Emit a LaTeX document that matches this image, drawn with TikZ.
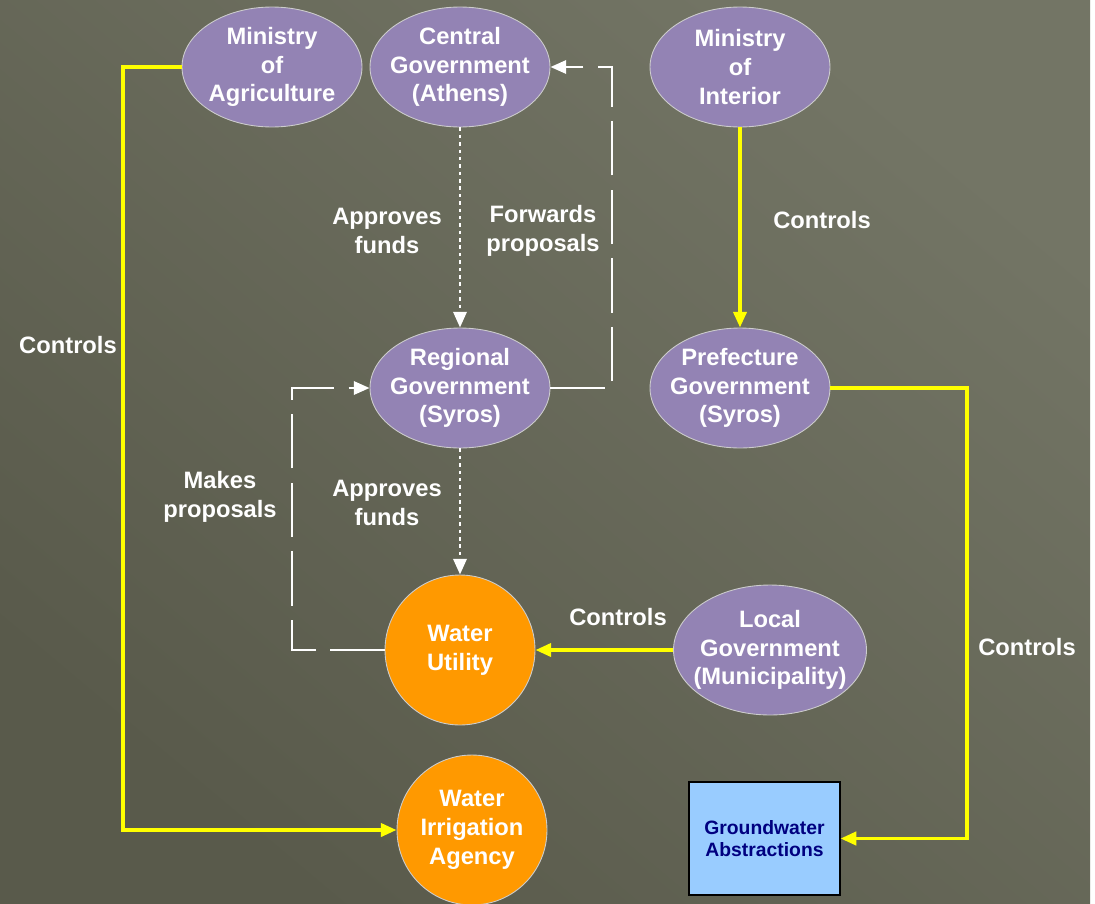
\documentclass[tikz,border=0pt]{standalone}
\usepackage{fontspec}
\setmainfont{Liberation Sans}
\usepackage{xcolor}
\usepackage{tikz}
\usetikzlibrary{shapes, arrows.meta, positioning, calc}

\definecolor{bglight}{HTML}{737565}
\definecolor{bgdark}{HTML}{595A4B}
\definecolor{govpurple}{HTML}{9383B4}
\definecolor{utilorange}{HTML}{FF9900}
\definecolor{gwblue}{HTML}{99CCFF}
\definecolor{gwnavy}{HTML}{000080}
\definecolor{ctrlyellow}{HTML}{FFFF00}

\begin{document}
\begin{tikzpicture}[x=0.02cm, y=-0.02cm,
    font=\bfseries\fontsize{13.5}{16.4}\selectfont,
    nodetext/.style={text=white, align=center, inner sep=0pt},
    govt/.style={ellipse, draw=gray!40, line width=0.5pt, fill=govpurple,
        minimum width=3.6cm, minimum height=2.4cm, inner sep=0pt},
    agency/.style={circle, draw=gray!40, line width=0.5pt, fill=utilorange,
        minimum size=3cm, inner sep=0pt},
    ctrl/.style={ctrlyellow, line width=2.1pt,
        -{Triangle[length=9pt, width=7.5pt]}},
    funds/.style={white, line width=1.7pt, dash pattern=on 2pt off 2.2pt,
        -{Triangle[length=9pt, width=7.5pt]}},
    prop/.style={white, line width=1.6pt, dash pattern=on 31pt off 8pt,
        -{Triangle[length=9pt, width=7.5pt]}},
    lbl/.style={text=white, align=center}]

    % Background
    \useasboundingbox (0,0) rectangle (1095,903);
    \fill[white] (0,0) rectangle (1095,903);
    \shade[top color=bglight, bottom color=bgdark, shading angle=-40]
        (0,0) rectangle (1090,903);

    % Ministries and governments
    \node[govt, label={[nodetext]center:Ministry\\of\\Agriculture}] (ma) at (272,67) {};
    \node[govt, label={[nodetext]center:Central\\Government\\(Athens)}] (cg) at (460,67) {};
    \node[govt, label={[nodetext]center:Ministry\\of\\Interior}] (mi) at (740,67) {};
    \node[govt, label={[nodetext]center:Regional\\Government\\(Syros)}] (rg) at (460,388) {};
    \node[govt, label={[nodetext]center:Prefecture\\Government\\(Syros)}] (pg) at (740,388) {};
    \node[govt, minimum width=3.86cm, minimum height=2.6cm,
        label={[nodetext]center:Local\\Government\\(Municipality)}] (lg) at (770,650) {};

    % Water bodies
    \node[agency, label={[nodetext]center:Water\\Utility}] (wu) at (460,650) {};
    \node[agency, label={[nodetext]center:Water\\Irrigation\\Agency}] (wia) at (472,830) {};

    % Groundwater box
    \node[rectangle, draw=black, line width=0.6pt, fill=gwblue, text=gwnavy,
        align=center, minimum width=3.02cm, minimum height=2.26cm, inner sep=0pt,
        font=\bfseries\fontsize{11}{12.5}\selectfont]
        (gw) at (764.5,838.5) {Groundwater\\Abstractions};

    % Bend points
    \coordinate (agline) at (123,0);
    \coordinate (pfline) at (967,0);
    \coordinate (fwline) at (612,0);
    \coordinate (mkline) at (292,0);

    % Controls (yellow)
    \draw[ctrl] (ma.west) -- (ma.west -| agline) |- (wia.west);
    \node[lbl] (c1) at (68,345) {Controls};
    \draw[ctrl] (mi.south) -- (pg.north);
    \node[lbl] (c2) at (822,220) {Controls};
    \draw[ctrl] (pg.east) -- (pg.east -| pfline) |- (gw.east);
    \node[lbl] (c3) at (1027,647) {Controls};
    \draw[ctrl] (lg.west) -- (wu.east);
    \node[lbl] (c4) at (618,617) {Controls};

    % Funds (dotted)
    \draw[funds] (cg.south) -- (rg.north);
    \node[lbl] (f1) at (387,231) {Approves\\funds};
    \draw[funds] (rg.south) -- (wu.north);
    \node[lbl] (f2) at (387,503) {Approves\\funds};

    % Proposals (dashed)
    \draw[prop] (rg.east) -- (rg.east -| fwline) -- (cg.east -| fwline) -- (cg.east);
    \node[lbl] (p1) at (543,231) {Forwards\\proposals};
    \draw[prop] (wu.west) -- (wu.west -| mkline) -- (rg.west -| mkline) -- (rg.west);
    \node[lbl] (p2) at (220,497) {Makes\\proposals};
\end{tikzpicture}
\end{document}
